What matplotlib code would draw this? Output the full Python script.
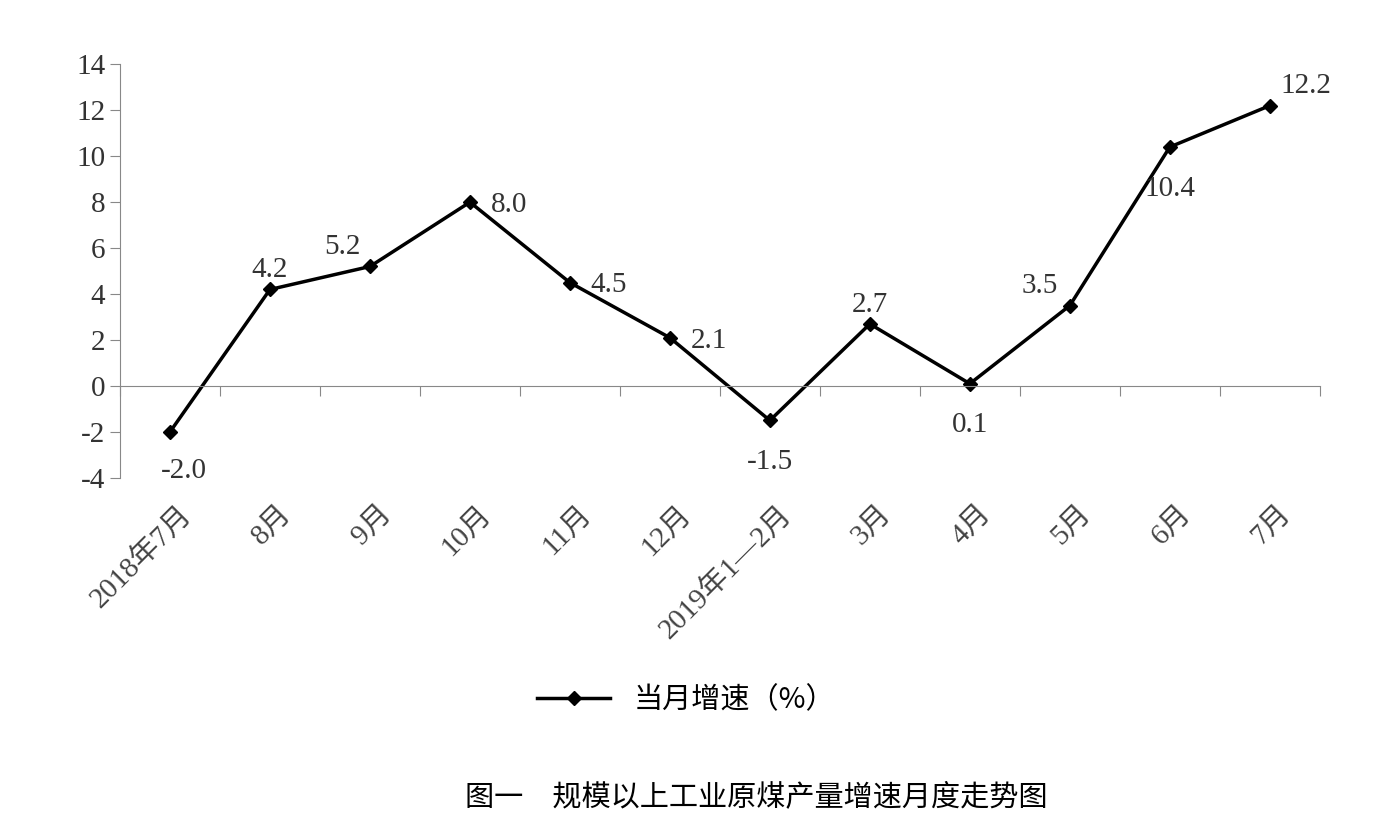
import matplotlib.pyplot as plt
import numpy as np

months = ["2018年7月", "8月", "9月", "10月", "11月", "12月", "2019年1—2月",
          "3月", "4月", "5月", "6月", "7月"]
growth = [-2.0, 4.2, 5.2, 8.0, 4.5, 2.1, -1.5, 2.7, 0.1, 3.5, 10.4, 12.2]
# label offsets in points
offsets = [(10, -28), (0, 14), (-20, 14), (28, -2), (28, -2), (28, -2), (0, -30),
           (0, 14), (0, -30), (-22, 14), (0, -30), (26, 14)]

plt.rcParams['font.family'] = ['Liberation Serif', 'Noto Sans CJK SC']
plt.rcParams['axes.unicode_minus'] = False
fig = plt.figure(figsize=(14, 8.24), dpi=100)
ax = fig.add_axes([0.0857, 0.42, 0.857, 0.502])
x = np.arange(len(months))
ax.plot(x, growth, color="black", lw=2.5, marker="D", ms=7, label="当月增速（%）")
for xi, v, (dx, dy) in zip(x, growth, offsets):
    ax.annotate(f"{v:.1f}", (xi, v), xytext=(dx, dy), textcoords="offset points",
                ha="center", va="center", fontsize=21, color="#333333")
ax.set_xlim(-0.5, 11.5)
ax.set_ylim(-4, 14)
ax.set_yticks(range(-4, 15, 2))
ax.spines[['top', 'right']].set_visible(False)
ax.spines['bottom'].set_position(('data', 0))
ax.spines['left'].set_color("#888888")
ax.spines['bottom'].set_color("#888888")
ax.set_xticks(np.arange(-0.5, 12, 1))
ax.set_xticklabels([])
ax.tick_params(axis='x', length=7, color="#888888", direction='out')
ax.tick_params(axis='y', length=7, color="#888888", labelsize=21, labelcolor="#333333")
for xi, m in zip(x, months):
    ax.text(xi + 0.08, -5.0, m, rotation=45, ha="right", va="top", fontsize=21,
            color="#444444", rotation_mode="anchor", transform=ax.transData)
fig.legend(loc="center", bbox_to_anchor=(0.49, 0.15), frameon=False,
           handlelength=2.5, prop={'family': ['Noto Sans CJK SC'], 'size': 21})
fig.text(0.54, 0.033, "图一　规模以上工业原煤产量增速月度走势图", ha="center", va="center",
         fontsize=21, family=['Noto Sans CJK SC'])
fig.savefig("out.png")
